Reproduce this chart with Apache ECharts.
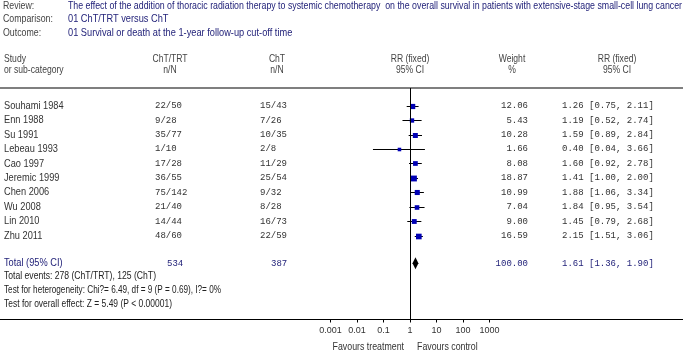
<!DOCTYPE html>
<html>
<head>
<meta charset="utf-8">
<script src="https://cdn.jsdelivr.net/npm/echarts@6/dist/echarts.min.js"></script>
<style>
  html, body { margin: 0; padding: 0; background: #fff; }
  #forest-chart { width: 685px; height: 353px; }
</style>
</head>
<body>
<div id="forest-chart"></div>
<script>
const studies = ['Souhami 1984', 'Enn 1988', 'Su 1991', 'Lebeau 1993', 'Cao 1997', 'Jeremic 1999', 'Chen 2006', 'Wu 2008', 'Lin 2010', 'Zhu 2011']
const trtEvents = [22, 9, 35, 1, 17, 36, 75, 21, 14, 48]
const trtTotal = [50, 28, 77, 10, 28, 55, 142, 40, 44, 60]
const ctlEvents = [15, 7, 10, 2, 11, 25, 9, 8, 16, 22]
const ctlTotal = [43, 26, 35, 8, 29, 54, 32, 28, 73, 59]
const weights = [12.06, 5.43, 10.28, 1.66, 8.08, 18.87, 10.99, 7.04, 9.00, 16.59]
const rr = [1.26, 1.19, 1.59, 0.40, 1.60, 1.41, 1.88, 1.84, 1.45, 2.15]
const ciLow = [0.75, 0.52, 0.89, 0.04, 0.92, 1.00, 1.06, 0.95, 0.79, 1.51]
const ciHigh = [2.11, 2.74, 2.84, 3.66, 2.78, 2.00, 3.34, 3.54, 2.68, 3.06]

const totalLabel = 'Total (95% CI)'
const totalTrtN = 534
const totalCtlN = 387
const totalWeight = 100.00
const totalRR = [1.61, 1.36, 1.90]

const tickLabels = ['0.001', '0.01', '0.1', '1', '10', '100', '1000']

const headerLabels = ['Review:', 'Comparison:', 'Outcome:']
const headerValues = [
  'The effect of the addition of thoracic radiation therapy to systemic chemotherapy  on the overall survival in patients with extensive-stage small-cell lung cancer',
  '01 ChT/TRT versus ChT',
  '01 Survival or death at the 1-year follow-up cut-off time'
]
const footerLines = [
  'Total events: 278 (ChT/TRT), 125 (ChT)',
  'Test for heterogeneity: Chi?= 6.49, df = 9 (P = 0.69), I?= 0%',
  'Test for overall effect: Z = 5.49 (P < 0.00001)'
]

const SANS = "'Liberation Sans', Arial, sans-serif"
const MONO = "'Liberation Mono', 'DejaVu Sans Mono', monospace"
const NAVY = '#23237a'
const NARROW = 0.8
const TOTAL_ROW = 10.92

// squeeze a line of text to the width it takes in the original layout
const measureCtx = document.createElement('canvas').getContext('2d')
function fitScale(text, font, width) {
  measureCtx.font = font
  return width / measureCtx.measureText(text).width
}

function fmtRR(v, lo, hi) {
  return `${v.toFixed(2)} [${lo.toFixed(2)}, ${hi.toFixed(2)}]`
}

// squares + CI whiskers
function renderStudy(params, api) {
  const i = api.value(0)
  const y = Math.round(api.coord([1, i])[1]) + 0.5
  const lo = api.coord([api.value(2), i])[0]
  const hi = api.coord([api.value(3), i])[0]
  const cx = api.coord([api.value(1), i])[0]
  const s = 2.6 + Math.sqrt(api.value(4)) * 0.75
  return {
    type: 'group',
    children: [
      { type: 'line', shape: { x1: lo, y1: y, x2: hi, y2: y }, style: { stroke: '#000', lineWidth: 1 } },
      { type: 'rect', shape: { x: cx - s / 2, y: y - s / 2, width: s, height: s }, style: { fill: '#0000b4' } }
    ]
  }
}

function renderDiamond(params, api) {
  const i = api.value(0)
  const y = api.coord([1, i])[1]
  const cx = api.coord([api.value(1), i])[0]
  const lo = api.coord([api.value(2), i])[0]
  const hi = api.coord([api.value(3), i])[0]
  return {
    type: 'polygon',
    shape: { points: [[lo - 1, y], [cx, y - 6], [hi + 1, y], [cx, y + 6]] },
    style: { fill: '#000' }
  }
}

// table columns, placed on the same row scale
function renderRow(params, api) {
  const i = api.value(0)
  const y = api.coord([1, i])[1]
  const idx = params.dataIndex
  const txt = (text, x, font, align, sx) => ({
    type: 'text', x: x, y: y, scaleX: sx || 1,
    style: { text: text, font: font, fill: '#333', align: align || 'left', verticalAlign: 'middle' }
  })
  return {
    type: 'group',
    children: [
      txt(studies[idx], 4, `11px ${SANS}`, 'left', 0.84),
      txt(`${trtEvents[idx]}/${trtTotal[idx]}`, 155, `9px ${MONO}`),
      txt(`${ctlEvents[idx]}/${ctlTotal[idx]}`, 260, `9px ${MONO}`),
      txt(weights[idx].toFixed(2), 528, `9px ${MONO}`, 'right'),
      txt(fmtRR(rr[idx], ciLow[idx], ciHigh[idx]), 562, `9px ${MONO}`)
    ]
  }
}

function renderTotalRow(params, api) {
  const y = api.coord([1, api.value(0)])[1]
  const txt = (text, x, font, align, sx) => ({
    type: 'text', x: x, y: y, scaleX: sx || 1,
    style: { text: text, font: font, fill: NAVY, align: align || 'left', verticalAlign: 'middle' }
  })
  return {
    type: 'group',
    children: [
      txt(totalLabel, 4, `11px ${SANS}`, 'left', 0.84),
      txt(String(totalTrtN), 167, `9px ${MONO}`),
      txt(String(totalCtlN), 271, `9px ${MONO}`),
      txt(totalWeight.toFixed(2), 528, `9px ${MONO}`, 'right'),
      txt(fmtRR(totalRR[0], totalRR[1], totalRR[2]), 562, `9px ${MONO}`)
    ]
  }
}

const graphics = []
const headerFont = `11px ${SANS}`
headerLabels.forEach((label, i) => {
  const y = 6 + i * 13.3
  graphics.push({ type: 'text', x: 3, y: y, scaleX: NARROW, style: { text: label, font: headerFont, fill: '#444', verticalAlign: 'middle' } })
  const sx = i === 0 ? fitScale(headerValues[0], headerFont, 614) : 0.84
  graphics.push({ type: 'text', x: 68, y: y, scaleX: sx, style: { text: headerValues[i], font: headerFont, fill: NAVY, verticalAlign: 'middle' } })
})
const colHeads = [
  ['Study', 'or sub-category', 4, 'left'],
  ['ChT/TRT', 'n/N', 170, 'center'],
  ['ChT', 'n/N', 277, 'center'],
  ['RR (fixed)', '95% CI', 410, 'center'],
  ['Weight', '%', 512, 'center'],
  ['RR (fixed)', '95% CI', 617, 'center']
]
colHeads.forEach(h => {
  graphics.push({ type: 'text', x: h[2], y: 59, scaleX: 0.78, style: { text: h[0], font: headerFont, fill: '#444', align: h[3], verticalAlign: 'middle' } })
  graphics.push({ type: 'text', x: h[2], y: 70, scaleX: 0.78, style: { text: h[1], font: headerFont, fill: '#444', align: h[3], verticalAlign: 'middle' } })
})
const footerWidths = [152, 217, 168]
footerLines.forEach((line, i) => {
  graphics.push({
    type: 'text', x: 4, y: 276 + i * 14, scaleX: fitScale(line, headerFont, footerWidths[i]),
    style: { text: line, font: headerFont, fill: '#222', verticalAlign: 'middle' }
  })
})
graphics.push({ type: 'line', shape: { x1: 0, y1: 88, x2: 683, y2: 88 }, style: { stroke: '#000', lineWidth: 1.2 } })
graphics.push({ type: 'line', shape: { x1: 0, y1: 319.5, x2: 683, y2: 319.5 }, style: { stroke: '#000', lineWidth: 1.2 } })
graphics.push({ type: 'text', x: 404, y: 347, scaleX: NARROW, style: { text: 'Favours treatment', font: headerFont, fill: '#333', align: 'right', verticalAlign: 'middle' } })
graphics.push({ type: 'text', x: 417, y: 347, scaleX: NARROW, style: { text: 'Favours control', font: headerFont, fill: '#333', align: 'left', verticalAlign: 'middle' } })

const option = {
  animation: false,
  backgroundColor: '#fff',
  grid: { left: 330.5, width: 159, top: 88, height: 231.5 },
  xAxis: {
    type: 'log',
    logBase: 10,
    min: 0.001,
    max: 1000,
    interval: 1,
    axisLine: { show: false, onZero: false },
    splitLine: { show: false },
    axisTick: { show: true, length: 3, lineStyle: { color: '#000' } },
    axisLabel: {
      margin: 7,
      color: '#333',
      fontSize: 9,
      fontFamily: SANS,
      formatter: (v, idx) => tickLabels[idx]
    }
  },
  yAxis: {
    type: 'value',
    inverse: true,
    min: -1.23,
    max: 14.81,
    show: false
  },
  graphic: graphics,
  series: [
    {
      type: 'custom',
      renderItem: renderRow,
      clip: false,
      encode: { x: 1, y: 0 },
      data: studies.map((s, i) => [i, 1]),
      silent: true
    },
    {
      type: 'custom',
      renderItem: renderStudy,
      clip: false,
      encode: { x: 1, y: 0 },
      data: studies.map((s, i) => [i, rr[i], ciLow[i], ciHigh[i], weights[i]]),
      markLine: {
        silent: true,
        symbol: 'none',
        label: { show: false },
        lineStyle: { color: '#000', type: 'solid', width: 1 },
        data: [{ xAxis: 1 }]
      }
    },
    {
      type: 'custom',
      renderItem: renderDiamond,
      clip: false,
      encode: { x: 1, y: 0 },
      data: [[TOTAL_ROW, totalRR[0], totalRR[1], totalRR[2]]]
    },
    {
      type: 'custom',
      renderItem: renderTotalRow,
      clip: false,
      encode: { x: 1, y: 0 },
      data: [[TOTAL_ROW, 1]],
      silent: true
    }
  ]
}

const forestChart = echarts.init(document.getElementById('forest-chart'))
forestChart.setOption(option)
</script>
</body>
</html>
